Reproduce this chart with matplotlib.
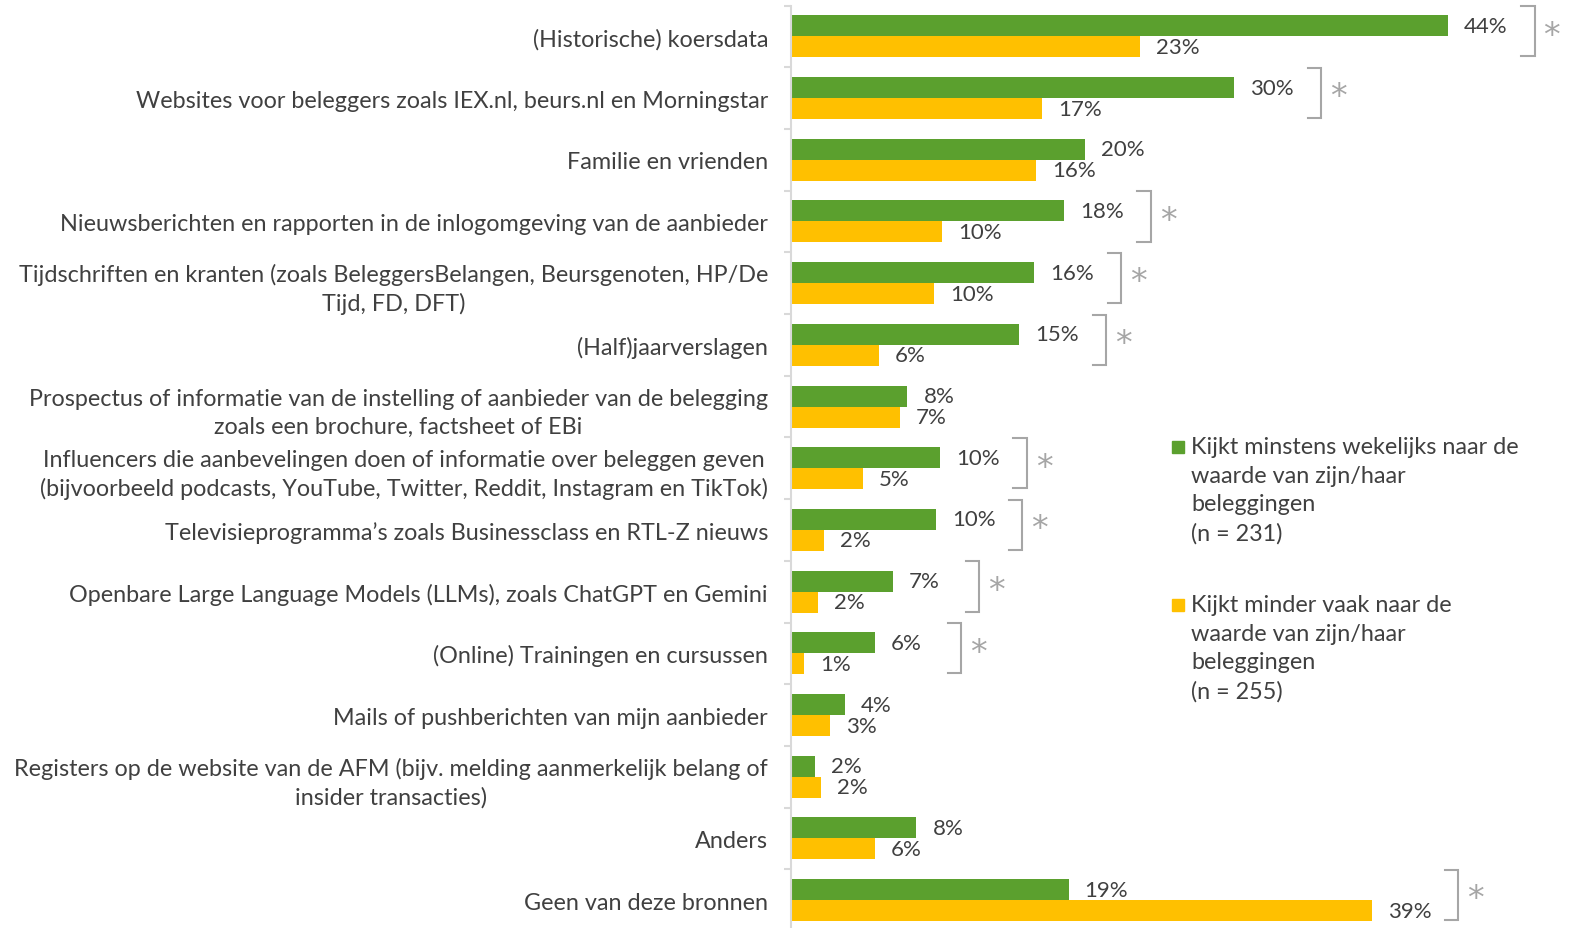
import matplotlib
matplotlib.use("Agg")
import matplotlib.pyplot as plt
from matplotlib.patches import Rectangle
import numpy as np

plt.rcParams['font.family'] = ['Lato', 'DejaVu Sans']

categories = [
    "(Historische) koersdata",
    "Websites voor beleggers zoals IEX.nl, beurs.nl en Morningstar",
    "Familie en vrienden",
    "Nieuwsberichten en rapporten in de inlogomgeving van de aanbieder",
    "Tijdschriften en kranten (zoals BeleggersBelangen, Beursgenoten, HP/De\nTijd, FD, DFT)",
    "(Half)jaarverslagen",
    "Prospectus of informatie van de instelling of aanbieder van de belegging\nzoals een brochure, factsheet of EBi",
    "Influencers die aanbevelingen doen of informatie over beleggen geven\n(bijvoorbeeld podcasts, YouTube, Twitter, Reddit, Instagram en TikTok)",
    "Televisieprogramma\u2019s zoals Businessclass en RTL-Z nieuws",
    "Openbare Large Language Models (LLMs), zoals ChatGPT en Gemini",
    "(Online) Trainingen en cursussen",
    "Mails of pushberichten van mijn aanbieder",
    "Registers op de website van de AFM (bijv. melding aanmerkelijk belang of\ninsider transacties)",
    "Anders",
    "Geen van deze bronnen",
]
weekly = [44.0, 29.7, 19.7, 18.3, 16.3, 15.3, 7.8, 10.0, 9.7, 6.8, 5.6, 3.6, 1.6, 8.4, 18.6]
less_often = [23.4, 16.8, 16.4, 10.1, 9.6, 5.9, 7.3, 4.8, 2.2, 1.8, 0.9, 2.6, 2.0, 5.6, 38.9]
significant = [True, True, False, True, True, True, False, True, True, True, True, False, False, False, True]
series_names = [
    "Kijkt minstens wekelijks naar de\nwaarde van zijn/haar\nbeleggingen\n(n = 231)",
    "Kijkt minder vaak naar de\nwaarde van zijn/haar\nbeleggingen\n(n = 255)",
]

GREEN = "#5BA02E"
YELLOW = "#FFC000"
TXT = "#404040"
GRID = "#D9D9D9"
BRK = "#A6A6A6"
FS = 16.8

W, H = 1580, 929
fig = plt.figure(figsize=(15.8, 9.29), dpi=100)
ax = fig.add_axes([791/W, -3/H, 746.5/W, 925.5/H])

n = len(categories)
y = np.arange(n)
h = 0.34
ax.barh(y - h/2, weekly, height=h, color=GREEN, edgecolor='none')
ax.barh(y + h/2, less_often, height=h, color=YELLOW, edgecolor='none')

ax.set_xlim(0, 50)
ax.set_ylim(n - 0.5, -0.5)

for s in ['top', 'right', 'bottom']:
    ax.spines[s].set_visible(False)
ax.spines['left'].set_color(GRID)
ax.spines['left'].set_linewidth(1.5)
ax.set_xticks([])
ax.set_yticks(y)
ax.set_yticklabels(categories, fontsize=FS, color=TXT, multialignment='center', linespacing=1.4)
ax.tick_params(axis='y', which='major', length=0, pad=16.5)
ax.set_yticks(np.arange(-0.5, n, 1.0), minor=True)
ax.tick_params(axis='y', which='minor', length=5, width=1.5, color=GRID)

for i in range(n):
    ax.annotate(f"{weekly[i]:.0f}%", (weekly[i], i - h/2), xytext=(11.5, 0),
                textcoords='offset points', va='center', ha='left', fontsize=16, color=TXT)
    ax.annotate(f"{less_often[i]:.0f}%", (less_often[i], i + h/2), xytext=(11.5, 0),
                textcoords='offset points', va='center', ha='left', fontsize=16, color=TXT)
    if significant[i]:
        bx = max(weekly[i], less_often[i]) + 5.8
        top, bot = i - 0.49, i + 0.325
        ax.plot([bx - 0.9, bx, bx, bx - 0.9], [top, top, bot, bot], color=BRK, lw=1.5,
                clip_on=False, solid_joinstyle='miter')
        ax.text(bx + 0.6, i - 0.02, "*", fontsize=24, color=BRK, ha='left', va='center',
                family='DejaVu Sans', clip_on=False)

# legend
colors = [GREEN, YELLOW]
tops = [437, 595]
for c, t, name in zip(colors, tops, series_names):
    fig.patches.append(Rectangle((1172/W, 1 - (t + 17)/H), 12/W, 12/H,
                                 transform=fig.transFigure, color=c))
    fig.text(1191/W, 1 - t/H, name, fontsize=FS, color=TXT, ha='left', va='top',
             linespacing=1.45)

fig.savefig("out.png", dpi=100)
